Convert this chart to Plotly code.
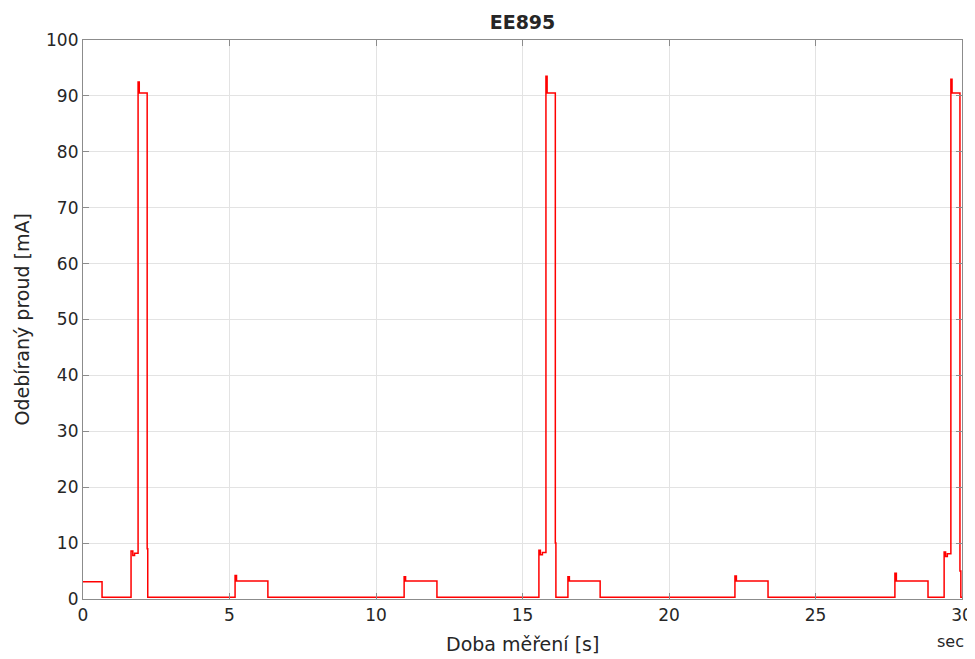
import plotly.graph_objects as go

# Step-wise current trace: segment start times [s] and current levels [mA]
seg_time = [0.0, 0.65, 1.64, 1.70, 1.76, 1.88, 1.92, 2.19, 2.21,
             5.19, 5.24, 6.31,
             10.96, 11.01, 12.08,
             15.56, 15.61, 15.68, 15.80, 15.84, 16.12, 16.14,
             16.55, 16.60, 17.65,
             22.25, 22.30, 23.38,
             27.71, 27.76, 28.84,
             29.39, 29.44, 29.50, 29.62, 29.66, 29.93, 29.96, 30.0]
seg_current = [3.1, 0.3, 8.6, 7.8, 8.2, 92.5, 90.5, 9.0, 0.3,
               4.2, 3.2, 0.3,
               4.0, 3.2, 0.3,
               8.7, 7.9, 8.3, 93.5, 90.5, 10.0, 0.3,
               4.0, 3.2, 0.3,
               4.1, 3.2, 0.3,
               4.6, 3.2, 0.3,
               8.4, 7.6, 8.1, 93.0, 90.5, 5.0, 0.3, 0.3]

x_ticks = [0, 5, 10, 15, 20, 25, 30]
y_ticks = [0, 10, 20, 30, 40, 50, 60, 70, 80, 90, 100]

FONT = "DejaVu Sans, Liberation Sans, Arial, sans-serif"
OFF = 8  # default page body margin
W, H = 975 - OFF, 659 - OFF
# plot area in page pixels: x 83..962, y 40..599
L, T = 83 - OFF, 40 - OFF
R = W - (962 - OFF)
B = H - (599 - OFF)
PW, PH = W - L - R, H - T - B


def px_x(page_x):
    return (page_x - 83) / PW


def px_y(page_y):
    return (599 - page_y) / PH


fig = go.Figure()
fig.add_trace(go.Scatter(
    x=seg_time, y=seg_current, mode="lines",
    line=dict(color="#ff0000", width=1.5, shape="hv"),
    showlegend=False, hoverinfo="skip"))

axis_common = dict(
    showline=True, linecolor="#8c8c8c", linewidth=1.2, mirror="ticks",
    ticks="inside", ticklen=6, tickcolor="#8c8c8c", tickwidth=1,
    showgrid=True, gridcolor="#e3e3e3", gridwidth=1, zeroline=False,
    automargin=False,
    tickfont=dict(family=FONT, size=17, color="#262626"),
)

fig.update_layout(
    width=W, height=H,
    margin=dict(l=L, r=R, t=T, b=B, autoexpand=False),
    paper_bgcolor="white", plot_bgcolor="white",
    title=dict(text="<b>EE895</b>", x=(L + PW / 2) / W, xanchor="center",
               xref="container", yref="container", y=1 - (22 - OFF) / H, yanchor="middle",
               font=dict(family=FONT, size=19, color="#262626")),
    xaxis=dict(range=[0, 30], tickvals=x_ticks, **axis_common),
    yaxis=dict(range=[0, 100], tickvals=y_ticks, **axis_common),
)

fig.add_annotation(text="Doba měření [s]", xref="paper", yref="paper",
                   x=0.5, y=px_y(644), xanchor="center", yanchor="middle",
                   showarrow=False, font=dict(family=FONT, size=19, color="#262626"))
fig.add_annotation(text="Odebíraný proud [mA]", xref="paper", yref="paper",
                   x=px_x(21), y=0.5, xanchor="center", yanchor="middle",
                   textangle=-90, showarrow=False,
                   font=dict(family=FONT, size=19, color="#262626"))
fig.add_annotation(text="sec", xref="paper", yref="paper",
                   x=px_x(950), y=px_y(641),
                   xanchor="center", yanchor="middle", showarrow=False,
                   font=dict(family=FONT, size=16, color="#262626"))

fig.write_html("out.html")
